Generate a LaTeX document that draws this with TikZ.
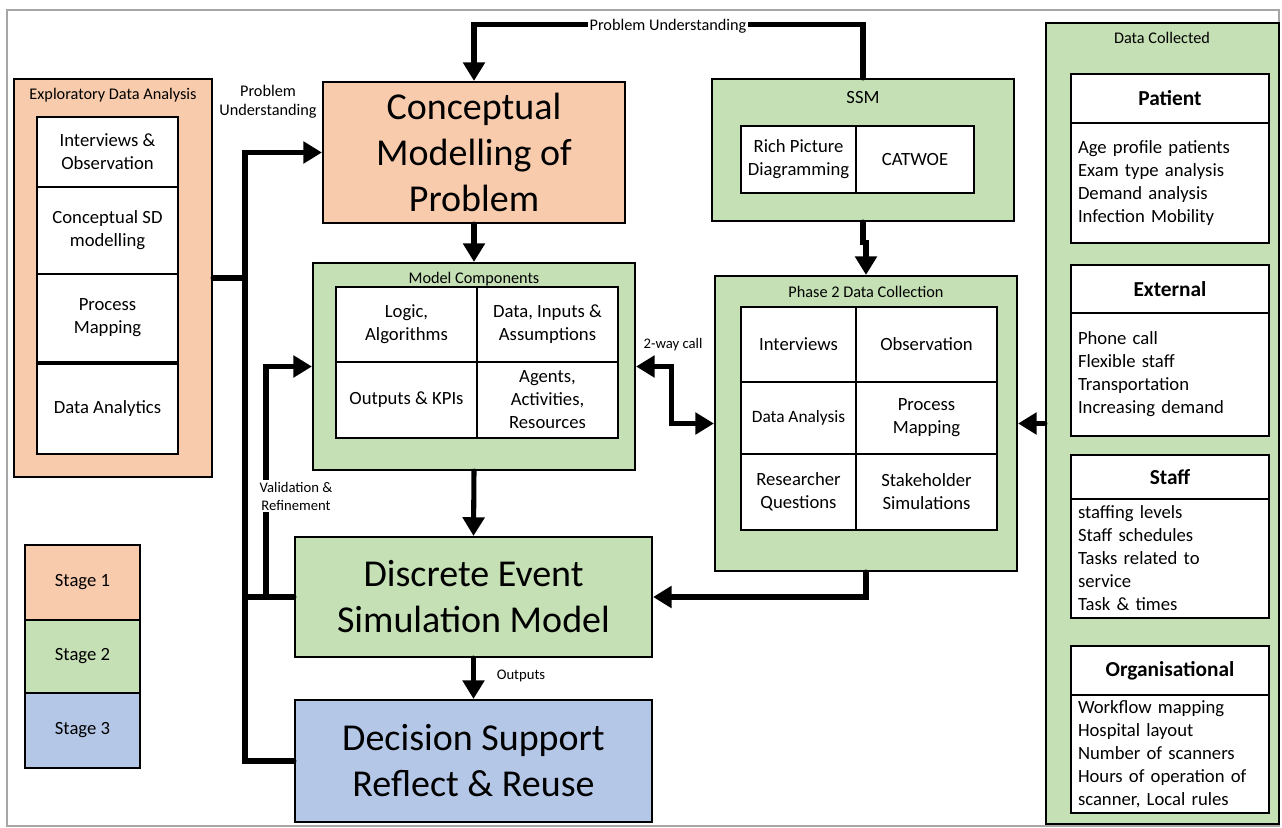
\documentclass[tikz,border=0pt]{standalone}
\usepackage{fontspec}
\setmainfont{Carlito}
\usetikzlibrary{arrows.meta}
\definecolor{peach}{HTML}{F8CBAD}
\definecolor{leaf}{HTML}{C5E0B4}
\definecolor{sky}{HTML}{B4C7E7}
\newcommand\bigfs{\fontsize{28.5}{34.5}\selectfont}
\newcommand\midfs{\fontsize{14}{17.25}\selectfont}
\newcommand\smallfs{\fontsize{11}{13.5}\selectfont}
\newcommand\titlefs{\fontsize{12.2}{14.5}\selectfont}
\newcommand\headfs{\fontsize{16}{19}\selectfont\bfseries}
\begin{document}
\begin{tikzpicture}[x=0.75pt,y=-0.75pt,
    box/.style 2 args={draw, line width=1.6pt, inner sep=0pt, minimum width=#1*0.75pt, minimum height=#2*0.75pt, align=center},
    cell/.style 2 args={box={#1}{#2}, line width=1.3pt, fill=white, font=\midfs},
    itembox/.style={draw, line width=1.3pt, fill=white, minimum height=#1*0.75pt, text width=138pt, inner xsep=5.25pt, inner ysep=0pt, align=left, font=\midfs},
    boxtitle/.style={inner sep=0.75pt, font=\titlefs, align=center},
    lbl/.style={inner sep=1.5pt, font=\smallfs, fill=white, align=center},
    trunkline/.style={line width=3.8pt, line cap=round},
    flow/.style={trunkline, -{Triangle[length=14pt,width=16pt]}},
    twoway/.style={trunkline, {Triangle[length=14pt,width=16pt]}-{Triangle[length=14pt,width=16pt]}}]
    \useasboundingbox (0,0) rectangle (1282,828);
    \draw [gray!70, line width=0.8pt] (7,10) rectangle (1279,826);

    \node (eda) [box={198}{398}, fill=peach] at (113,278) {};
    \node (edatitle) [boxtitle] at (113,95) {Exploratory Data Analysis};
    \node (eda1) [cell={141}{70}] at (107.5,152) {Interviews \&\\Observation};
    \node (eda2) [cell={141}{87}] at (107.5,230.5) {Conceptual SD\\modelling};
    \node (eda3) [cell={141}{88}] at (107.5,318) {Process\\Mapping};
    \node (eda4) [cell={141}{90}] at (107.5,409) {Data Analytics};

    \node (st1) [cell={115}{75}, fill=peach] at (82.5,582.5) {Stage 1};
    \node (st2) [cell={115}{73}, fill=leaf] at (82.5,656.5) {Stage 2};
    \node (st3) [cell={115}{75}, fill=sky] at (82.5,730.5) {Stage 3};

    \node (concept) [box={302}{141}, fill=peach, font=\bigfs] at (474,152.5) {Conceptual\\Modelling of\\Problem};

    \node (modelc) [box={322}{207}, fill=leaf] at (474,366.5) {};
    \node (modelctitle) [boxtitle] at (474,279) {Model Components};
    \node (mc1) [cell={141}{75}] at (406.5,324.5) {Logic,\\Algorithms};
    \node (mc2) [cell={141}{75}] at (547.5,324.5) {Data, Inputs \&\\Assumptions};
    \node (mc3) [cell={141}{76}] at (406.5,400) {Outputs \& KPIs};
    \node (mc4) [cell={141}{76}] at (547.5,400) {Agents,\\Activities,\\Resources};

    \node (des) [box={357}{120}, fill=leaf, font=\bigfs] at (473.5,597) {Discrete Event\\Simulation Model};
    \node (dsup) [box={357}{122}, fill=sky, font=\bigfs] at (473.5,761) {Decision Support\\Reflect \& Reuse};

    \node (ssm) [box={302}{142}, fill=leaf] at (863,150) {};
    \node (ssmtitle) [boxtitle, font=\midfs] at (863,98) {SSM};
    \node (ssm1) [cell={115}{67}] at (798.5,159.5) {Rich Picture\\Diagramming};
    \node (ssm2) [cell={118}{67}] at (915,159.5) {CATWOE};

    \node (ph2) [box={302}{295}, fill=leaf] at (866,423.5) {};
    \node (ph2title) [boxtitle] at (866,292) {Phase 2 Data Collection};
    \node (pc1) [cell={115}{75}] at (798.5,344.5) {Interviews};
    \node (pc2) [cell={141}{75}] at (926.5,344.5) {Observation};
    \node (pc3) [cell={115}{72}, font=\fontsize{13}{16}\selectfont] at (798.5,418) {Data Analysis};
    \node (pc4) [cell={141}{72}] at (926.5,418) {Process\\Mapping};
    \node (pc5) [cell={115}{76}] at (798.5,492) {Researcher\\Questions};
    \node (pc6) [cell={141}{76}] at (926.5,492) {Stakeholder\\Simulations};

    \node (datac) [box={233}{801}, fill=leaf] at (1162.5,423.5) {};
    \node (datactitle) [boxtitle] at (1162,38) {Data Collected};
    \node (pathead) [cell={198}{49}, font=\headfs] at (1170,98.5) {Patient};
    \node (patbody) [itembox=120] at (1170,183) {Age profile patients\\Exam type analysis\\Demand analysis\\Infection Mobility};
    \node (exthead) [cell={198}{48}, font=\headfs] at (1170,289) {External};
    \node (extbody) [itembox=123] at (1170,374.5) {Phone call\\Flexible staff\\Transportation\\Increasing demand};
    \node (staffhead) [cell={198}{44}, font=\headfs] at (1170,477) {Staff};
    \node (staffbody) [itembox=119] at (1170,558.5) {staffing levels\\Staff schedules\\Tasks related to\\service\\Task \& times};
    \node (orghead) [cell={198}{49}, font=\headfs] at (1170,670.5) {Organisational};
    \node (orgbody) [itembox=118] at (1170,754) {Workflow mapping\\Hospital layout\\Number of scanners\\Hours of operation of\\scanner, Local rules};

    \coordinate (trunk) at (245,278);
    \coordinate (valid) at (266,597);
    \draw [trunkline] (eda.east) -- (trunk);
    \draw [flow] (dsup.west) -- (dsup.west -| trunk) |- (concept.west);
    \draw [trunkline] (des.west) -- (des.west -| trunk);
    \draw [flow] (valid) |- (modelc.west);
    \draw [flow] (concept.south) -- (modelc.north);
    \draw [flow] (modelc.south) -- (des.north);
    \draw [flow] (des.south) -- (dsup.north);
    \draw [flow] (ssm.north) -- ++(0,-53) -| (concept.north);
    \draw [flow] (ssm.south) -- ++(0,20) -| (ph2.north);
    \draw [twoway] (ph2.west) -- ++(-42,0) |- (modelc.east);
    \draw [flow] (ph2.south) |- (des.east);
    \draw [flow] (datac.west) -- (ph2.east);

    \node (pulabel) [lbl, font=\titlefs] at (668,26) {Problem Understanding};
    \node (pulabel2) [boxtitle] at (268,102) {Problem\\Understanding};
    \node (vallabel) [lbl] at (296,496) {Validation \&\\Refinement};
    \node (waylabel) [lbl, fill=none] at (673,345) {2-way call};
    \node (outlabel) [lbl, fill=none] at (521,676) {Outputs};
\end{tikzpicture}
\end{document}
